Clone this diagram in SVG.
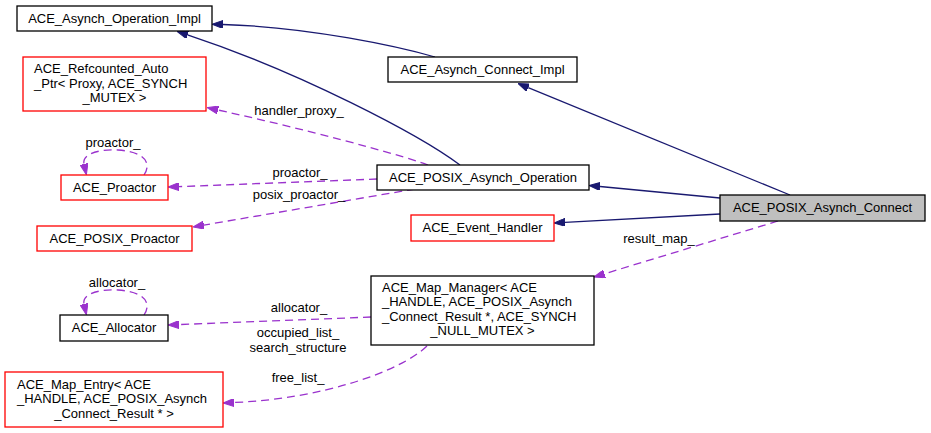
<svg xmlns="http://www.w3.org/2000/svg" width="931" height="433" viewBox="0 0 931 433">
<style>
  text { font-family: "Liberation Sans", Arial, sans-serif; font-size: 13px; fill: #000; }
  .c { text-anchor: middle; }
  .box { fill: #fff; stroke: #000; stroke-width: 1.3; }
  .red { fill: #fff; stroke: #ff0000; stroke-width: 1.3; }
  .main { fill: #bfbfbf; stroke: #000; stroke-width: 1.3; }
  .inh { fill: none; stroke: #191970; stroke-width: 1.3; marker-end: url(#an); }
  .use { fill: none; stroke: #9a32cd; stroke-width: 1.3; stroke-dasharray: 8,5; marker-end: url(#ap); }
</style>
<defs>
  <marker id="an" viewBox="0 0 11 8" refX="0" refY="4" markerWidth="11" markerHeight="8" markerUnits="userSpaceOnUse" orient="auto">
    <path d="M0,0 L11,4 L0,8 z" fill="#191970" stroke="#191970" stroke-width="1"/>
  </marker>
  <marker id="ap" viewBox="0 0 11 8" refX="0" refY="4" markerWidth="11" markerHeight="8" markerUnits="userSpaceOnUse" orient="auto">
    <path d="M0,0 L11,4 L0,8 z" fill="#9a32cd" stroke="#9a32cd" stroke-width="1"/>
  </marker>
</defs>
<rect width="931" height="433" fill="#fff"/>

<g id="edges">
  <path class="inh" d="M435,57 C400,47 310,27 223,24.5"/>
  <path class="inh" d="M460,165 C420,135 300,72 187.5,34.8"/>
  <path class="inh" d="M790,195 L528.2,87.7"/>
  <path class="inh" d="M720,198 L600,186.5"/>
  <path class="inh" d="M720,214 L565,222.4"/>
  <path class="use" d="M778,221 L604.5,273.8"/>
  <path class="use" d="M428,165 C395,153 300,128 218,110"/>
  <path class="use" d="M377,179 L179,186.6"/>
  <path class="use" d="M415,189 L203.8,225.1"/>
  <path class="use" d="M144,175 C152,163 145,152 118,150 C96,149 82,155 84,164"/>
  <path class="use" d="M144,315 C152,303 145,292 118,290 C96,289 82,295 84,304"/>
  <path class="use" d="M371,317 L179,324.6"/>
  <path class="use" d="M427,346 C400,372 320,399 234,402.5"/>
  <text class="c" x="659" y="243">result_map_</text>
  <text class="c" x="299" y="115">handler_proxy_</text>
  <text class="c" x="300" y="177">proactor_</text>
  <text class="c" x="299" y="199">posix_proactor_</text>
  <text class="c" x="113" y="147">proactor_</text>
  <text class="c" x="117" y="287">allocator_</text>
  <text class="c" x="299" y="312">allocator_</text>
  <text class="c" x="298" y="337">occupied_list_</text>
  <text class="c" x="298" y="352">search_structure</text>
  <text class="c" x="298" y="382">free_list_</text>
</g>

<g id="n_asynch_operation_impl">
  <rect class="box" x="17" y="6" width="195" height="25"/>
  <text class="c" x="114.5" y="23">ACE_Asynch_Operation_Impl</text>
</g>
<g id="n_refcounted_auto_ptr">
  <rect class="red" x="23" y="57" width="183" height="54"/>
  <text x="34" y="73">ACE_Refcounted_Auto</text>
  <text x="34" y="87.5">_Ptr&lt; Proxy, ACE_SYNCH</text>
  <text class="c" x="114.5" y="102">_MUTEX &gt;</text>
</g>
<g id="n_proactor">
  <rect class="red" x="61" y="175" width="107" height="25"/>
  <text class="c" x="114.5" y="192">ACE_Proactor</text>
</g>
<g id="n_posix_proactor">
  <rect class="red" x="37" y="226" width="155" height="25"/>
  <text class="c" x="114.5" y="243">ACE_POSIX_Proactor</text>
</g>
<g id="n_allocator">
  <rect class="box" x="60" y="315" width="108" height="26"/>
  <text class="c" x="114" y="332">ACE_Allocator</text>
</g>
<g id="n_map_entry">
  <rect class="red" x="5" y="372" width="218" height="55"/>
  <text x="17" y="388.5">ACE_Map_Entry&lt; ACE</text>
  <text x="17" y="403">_HANDLE, ACE_POSIX_Asynch</text>
  <text class="c" x="114" y="417.5">_Connect_Result * &gt;</text>
</g>
<g id="n_asynch_connect_impl">
  <rect class="box" x="388" y="57" width="189" height="25"/>
  <text class="c" x="482.5" y="74">ACE_Asynch_Connect_Impl</text>
</g>
<g id="n_posix_asynch_operation">
  <rect class="box" x="377" y="165" width="212" height="25"/>
  <text class="c" x="483" y="182">ACE_POSIX_Asynch_Operation</text>
</g>
<g id="n_event_handler">
  <rect class="red" x="411" y="215" width="143" height="26"/>
  <text class="c" x="482.5" y="232">ACE_Event_Handler</text>
</g>
<g id="n_map_manager">
  <rect class="box" x="371" y="276" width="223" height="69"/>
  <text x="382" y="291.5">ACE_Map_Manager&lt; ACE</text>
  <text x="382" y="306">_HANDLE, ACE_POSIX_Asynch</text>
  <text x="382" y="320.5">_Connect_Result *, ACE_SYNCH</text>
  <text class="c" x="482.5" y="335">_NULL_MUTEX &gt;</text>
</g>
<g id="n_posix_asynch_connect">
  <rect class="main" x="720" y="195" width="205" height="26"/>
  <text class="c" x="822.5" y="212">ACE_POSIX_Asynch_Connect</text>
</g>
</svg>
